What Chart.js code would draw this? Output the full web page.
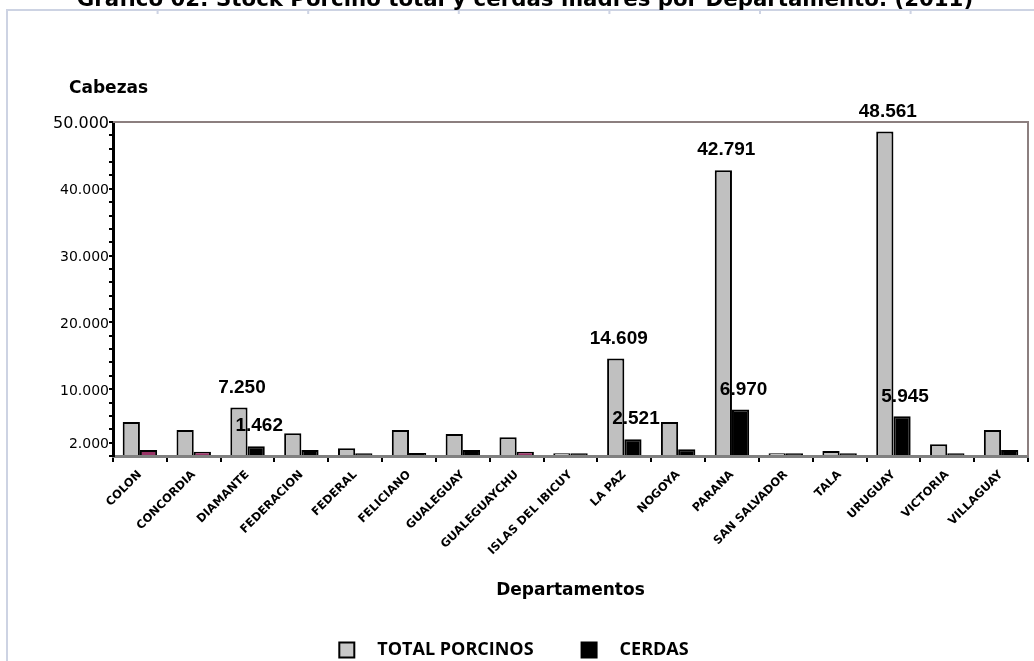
<!DOCTYPE html>
<html lang="es">

<head>
    <meta charset="UTF-8">
    <title>Stock porcino por departamento</title>
    <script src="https://cdn.jsdelivr.net/npm/chart.js"></script>
    <style>
        body { margin: 0; background: #fff; }
        #wrap { position: relative; width: 1034px; height: 661px; overflow: hidden; }
    </style>
</head>

<body>
    <div id="wrap">
        <canvas id="stock-chart"></canvas>
    </div>
    <script>
        // datos
        const departamentos = ['COLON', 'CONCORDIA', 'DIAMANTE', 'FEDERACION', 'FEDERAL', 'FELICIANO',
            'GUALEGUAY', 'GUALEGUAYCHU', 'ISLAS DEL IBICUY', 'LA PAZ', 'NOGOYA', 'PARANA',
            'SAN SALVADOR', 'TALA', 'URUGUAY', 'VICTORIA', 'VILLAGUAY'];
        const totalPorcinos = [5100, 3900, 7250, 3400, 1150, 3900, 3300, 2800, 400, 14609, 5100, 42791,
            400, 750, 48561, 1750, 3900];
        const cerdas = [900, 650, 1462, 900, 400, 450, 900, 650, 400, 2521, 1000, 6970,
            400, 400, 5945, 400, 900];
        const yTickLabels = [2000, 10000, 20000, 30000, 40000, 50000];
        const labeledIdx = [2, 9, 11, 14];   // barras con rotulo de valor
        const maroonIdx = [0, 1, 7];         // barras de cerdas en color bordo

        const tituloGrafico = 'Gráfico 02: Stock Porcino total y cerdas madres por Departamento. (2011)';

        const fmt = v => String(v).replace(/\B(?=(\d{3})+(?!\d))/g, '.');

        const cerdasColors = cerdas.map((v, i) => maroonIdx.includes(i) ? '#993366' : '#000000');

        const extras = {
            id: 'extras',
            beforeDraw(chart) {
                const ctx = chart.ctx;
                ctx.save();
                ctx.strokeStyle = '#cdd3e3';
                ctx.lineWidth = 2;
                ctx.beginPath();
                ctx.moveTo(7, chart.height);
                ctx.lineTo(7, 10);
                ctx.lineTo(chart.width, 10);
                for (let k = 1; k <= 6; k++) {
                    ctx.moveTo(7 + k * 150.6, 10);
                    ctx.lineTo(7 + k * 150.6, 14);
                }
                ctx.stroke();

                // titulo (cortado arriba como en el original)
                ctx.fillStyle = '#000';
                ctx.font = 'bold 20px "DejaVu Sans"';
                const w = ctx.measureText(tituloGrafico).width;
                const size = 20 * 897 / w;
                ctx.font = 'bold ' + size.toFixed(2) + 'px "DejaVu Sans"';
                ctx.textAlign = 'center';
                ctx.textBaseline = 'alphabetic';
                ctx.fillText(tituloGrafico, 525, 6);
                ctx.restore();
            },
            afterDatasetsDraw(chart) {
                const ctx = chart.ctx;
                const area = chart.chartArea;
                ctx.save();
                // borde superior y derecho del area de trazado
                ctx.strokeStyle = '#8c7f7f';
                ctx.lineWidth = 2;
                ctx.beginPath();
                ctx.moveTo(area.left, area.top);
                ctx.lineTo(area.right, area.top);
                ctx.lineTo(area.right, area.bottom);
                ctx.stroke();

                // rotulos de valores
                ctx.fillStyle = '#000';
                ctx.font = 'bold 19px "Liberation Sans", Arial';
                ctx.textAlign = 'center';
                ctx.textBaseline = 'middle';
                chart.data.datasets.forEach((ds, d) => {
                    const meta = chart.getDatasetMeta(d);
                    labeledIdx.forEach(i => {
                        const bar = meta.data[i];
                        ctx.fillText(fmt(ds.data[i]), bar.x + 3, bar.y - 20);
                    });
                });

                // titulo del eje y
                ctx.font = 'bold 17px "DejaVu Sans"';
                ctx.textAlign = 'left';
                ctx.fillText('Cabezas', area.left - 44, 89);
                ctx.restore();
            }
        };

        const ctx = document.getElementById('stock-chart').getContext('2d');
        new Chart(ctx, {
            type: 'bar',
            data: {
                labels: departamentos,
                datasets: [{
                    label: 'TOTAL PORCINOS',
                    data: totalPorcinos,
                    backgroundColor: '#c0c0c0',
                    borderColor: '#000',
                    borderWidth: 2,
                    borderSkipped: 'bottom'
                }, {
                    label: 'CERDAS',
                    data: cerdas,
                    backgroundColor: cerdasColors,
                    borderColor: '#000',
                    borderWidth: 2,
                    borderSkipped: 'bottom'
                }]
            },
            plugins: [extras],
            options: {
                responsive: true,
                maintainAspectRatio: false,
                devicePixelRatio: 1,
                animation: false,
                layout: { padding: { left: 0, right: 6, top: 122, bottom: -8 } },
                datasets: {
                    bar: { categoryPercentage: 0.64, barPercentage: 1.0 }
                },
                scales: {
                    x: {
                        afterFit(scale) { scale.height = 137; },
                        border: { color: '#808080', width: 3 },
                        grid: { drawOnChartArea: false, color: '#000', lineWidth: 2, tickLength: 6 },
                        ticks: {
                            autoSkip: false,
                            maxRotation: 45,
                            minRotation: 45,
                            color: '#000',
                            padding: 6,
                            font: { family: 'DejaVu Sans', weight: 'bold', size: 11.5 }
                        },
                        title: {
                            display: true,
                            text: 'Departamentos',
                            color: '#000',
                            padding: { top: 0, bottom: -8 },
                            font: { family: 'DejaVu Sans', weight: 'bold', size: 17 }
                        }
                    },
                    y: {
                        min: 0,
                        max: 50000,
                        afterFit(scale) { scale.width = 113; },
                        border: { color: '#000', width: 3 },
                        grid: { drawOnChartArea: false, color: '#000', lineWidth: 2, tickLength: 4 },
                        ticks: {
                            stepSize: 2000,
                            autoSkip: false,
                            color: '#000',
                            padding: 0,
                            labelOffset: 2,
                            font: c => ({ family: 'DejaVu Sans', size: c.tick && c.tick.value === 50000 ? 16 : 14 }),
                            callback: v => yTickLabels.includes(v) ? fmt(v) : ''
                        }
                    }
                },
                plugins: {
                    tooltip: { enabled: false },
                    legend: {
                        position: 'bottom',
                        labels: {
                            boxWidth: 15,
                            boxHeight: 15,
                            padding: 48,
                            color: '#000',
                            font: { family: 'Open Sans', weight: 'bold', size: 18 },
                            generateLabels: chart => [
                                { text: '   TOTAL PORCINOS', fillStyle: '#c8c8c8', strokeStyle: '#000', lineWidth: 2, datasetIndex: 0, hidden: false },
                                { text: '   CERDAS', fillStyle: '#000', strokeStyle: '#000', lineWidth: 2, datasetIndex: 1, hidden: false }
                            ]
                        }
                    }
                }
            }
        });
    </script>
</body>

</html>
